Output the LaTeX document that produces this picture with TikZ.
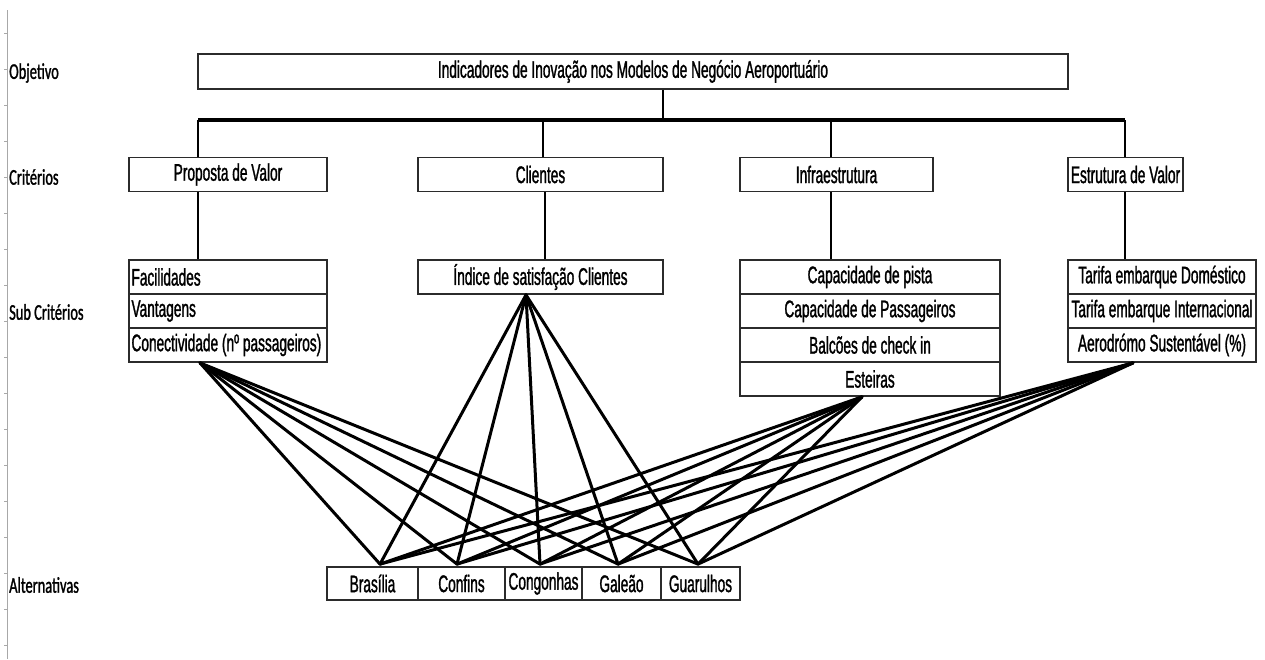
\documentclass[tikz,border=0pt]{standalone}
\usepackage{fontspec}
\newfontfamily\boxfont[FakeStretch=0.57,FakeBold=1.2]{Liberation Sans}
\newfontfamily\lblfont[FakeStretch=0.64,FakeBold=1.2]{Carlito}
\definecolor{edge}{HTML}{2B2B2B}
\definecolor{rule}{HTML}{A8A8A8}
\begin{document}
\begin{tikzpicture}[x=1pt,y=-1pt,
  box/.style={draw=edge, line width=1.8pt, fill=white, inner sep=0pt,
    minimum height=34pt, text=black, font=\boxfont\fontsize{24}{26}\selectfont},
  leftbox/.style={box, minimum width=198pt},
  level/.style={anchor=west, inner sep=0pt, text=black,
    font=\lblfont\fontsize{22.5}{26}\selectfont},
  wire/.style={line width=2.8pt, black},
  link/.style={line width=3pt, black, line cap=round}]
\useasboundingbox (0,0) rectangle (1265,659);

% spreadsheet margin rule
\draw[rule, line width=1pt] (7,10) -- (7,659);
\foreach \k in {0,...,17} \draw[rule, line width=0.8pt] (4,{33+36*\k}) -- (7,{33+36*\k});

% level captions
\node[level] (lObj)  at (9,73)  {Objetivo};
\node[level] (lCrit) at (9,177) {Critérios};
\node[level] (lSub)  at (9,312) {Sub Critérios};
\node[level] (lAlt)  at (9,585) {Alternativas};

% goal
\node[box, minimum width=870pt, minimum height=35pt] (obj) at (633,71.5)
  {Indicadores de Inovação nos Modelos de Negócio Aeroportuário};

% criteria
\node[box, minimum width=198pt] (prop)  at (228,174.5)   {Proposta de Valor};
\node[box, minimum width=245pt] (cli)   at (540.5,174.5) {Clientes};
\node[box, minimum width=193pt] (infra) at (836.5,174.5) {Infraestrutura};
\node[box, minimum width=115pt] (estr)  at (1125.5,174.5){Estrutura de Valor};

% tree from goal to criteria
\coordinate (d1) at (198,120);
\coordinate (d2) at (543,120);
\coordinate (d3) at (831,120);
\coordinate (d4) at (1125,120);
\coordinate (trunk) at (663,120);
\draw[wire] (obj.south -| trunk) -- (trunk);
\draw[wire, line width=3.4pt] (d1) -- (d4);
\draw[wire] (d1) -- (d1 |- prop.north);
\draw[wire] (d2) -- (d2 |- cli.north);
\draw[wire] (d3) -- (d3 |- infra.north);
\draw[wire] (d4) -- (d4 |- estr.north);

% sub-criteria (left column is flush left)
\node[leftbox] (p1) at (228,277) {\makebox[193pt][l]{Facilidades}};
\node[leftbox] (p2) at (228,311) {\makebox[193pt][l]{Vantagens}};
\node[leftbox] (p3) at (228,345) {\makebox[193pt][l]{Conectividade (nº passageiros)}};

\node[box, minimum width=245pt] (c1) at (540.5,277) {Índice de satisfação Clientes};

\node[box, minimum width=260pt] (i1) at (870,277) {Capacidade de pista};
\node[box, minimum width=260pt] (i2) at (870,311) {Capacidade de Passageiros};
\node[box, minimum width=260pt] (i3) at (870,345) {Balcões de check in};
\node[box, minimum width=260pt] (i4) at (870,379) {Esteiras};

\node[box, minimum width=188pt] (e1) at (1162,277) {Tarifa embarque Doméstico};
\node[box, minimum width=188pt] (e2) at (1162,311) {Tarifa embarque Internacional};
\node[box, minimum width=188pt] (e3) at (1162,345) {Aerodrómo Sustentável (\%)};

% criteria to sub-criteria
\coordinate (s1) at (198,0);
\coordinate (s2) at (545,0);
\coordinate (s3) at (831,0);
\coordinate (s4) at (1125,0);
\draw[wire] (prop.south -| s1) -- (p1.north -| s1);
\draw[wire] (cli.south -| s2) -- (c1.north -| s2);
\draw[wire] (infra.south -| s3) -- (i1.north -| s3);
\draw[wire] (estr.south -| s4) -- (e1.north -| s4);

% alternatives
\node[box, minimum width=91pt, minimum height=33pt] (a1) at (372.5,583.5) {Brasília};
\node[box, minimum width=87pt, minimum height=33pt] (a2) at (461.5,583.5) {Confins};
\node[box, minimum width=77pt, minimum height=33pt] (a3) at (543.5,583.5) {Congonhas};
\node[box, minimum width=79pt, minimum height=33pt] (a4) at (621.5,583.5) {Galeão};
\node[box, minimum width=79pt, minimum height=33pt] (a5) at (700.5,583.5) {Guarulhos};

% sub-criteria to alternatives
\coordinate (fromP) at ([xshift=-28pt]p3.south);
\coordinate (fromC) at ([xshift=-14.5pt]c1.south);
\coordinate (fromI) at ([xshift=-8pt]i4.south);
\coordinate (fromE) at ([xshift=-29pt]e3.south);
\coordinate (to1) at ([xshift=7.5pt,yshift=2pt]a1.north);
\coordinate (to2) at ([xshift=-4.5pt,yshift=2pt]a2.north);
\coordinate (to3) at ([xshift=-3.5pt,yshift=2pt]a3.north);
\coordinate (to4) at ([xshift=-3.5pt,yshift=2pt]a4.north);
\coordinate (to5) at ([xshift=-2.5pt,yshift=2pt]a5.north);
\foreach \s in {fromP,fromC,fromI,fromE}
  \foreach \t in {to1,to2,to3,to4,to5}
    \draw[link] (\s) -- (\t);
\end{tikzpicture}
\end{document}
